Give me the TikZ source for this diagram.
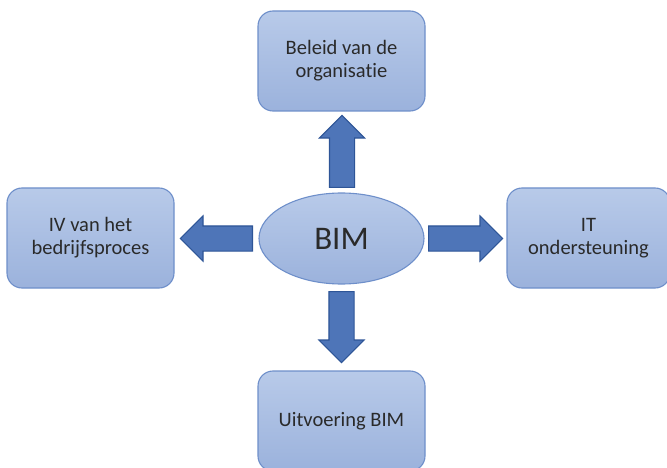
\documentclass[tikz,border=0pt]{standalone}
\usepackage{fontspec}
\setmainfont{Carlito}[Ligatures=NoCommon]
\usetikzlibrary{shapes.geometric,shapes.arrows}
\definecolor{boxtop}{HTML}{B8CAE9}
\definecolor{boxbot}{HTML}{9BB2DC}
\definecolor{boxline}{HTML}{6E8FCA}
\definecolor{arrfill}{HTML}{4E75B8}
\definecolor{arrline}{HTML}{2E5597}
\definecolor{txt}{HTML}{2A2A2A}
\tikzset{
  infobox/.style={draw=boxline, line width=1.1pt, rounded corners=15pt,
    top color=boxtop, bottom color=boxbot, minimum width=167pt, minimum height=100pt,
    inner sep=0pt, align=center, text=txt, font=\fontsize{20.5}{23}\selectfont},
  hub/.style={ellipse, draw=boxline, line width=1.1pt, top color=boxtop, bottom color=boxbot,
    minimum width=165pt, minimum height=91pt, inner sep=0pt, text=txt,
    font=\fontsize{33}{36}\selectfont},
  blockarrow/.style={single arrow, draw=arrline, fill=arrfill, line width=1.1pt,
    minimum width=44pt, single arrow head extend=10pt, inner xsep=0pt, inner ysep=12pt,
    single arrow tip angle=90, anchor=tail}
}
\begin{document}
\begin{tikzpicture}[x=1pt,y=-1pt]
\useasboundingbox (0,0) rectangle (667,468);
\clip (0,0) rectangle (667,468);
\node[infobox] (top) at (341.5,61) {Beleid van de\\organisatie};
\node[infobox] (left) at (90.5,238) {IV van het\\bedrijfsproces};
\node[infobox, minimum width=163pt] (right) at (588.5,238) {IT\\ondersteuning};
\node[infobox] (bottom) at (341.5,421) {Uitvoering BIM};
\node[hub] (bim) at (341.5,238.5) {BIM};
\node[blockarrow, minimum height=72pt, rotate=90] (aup) at (342,188) {};
\node[blockarrow, minimum height=72pt, rotate=180] (aleft) at (253,238.5) {};
\node[blockarrow, minimum height=74pt] (aright) at (428,238.5) {};
\node[blockarrow, minimum height=71pt, rotate=-90] (adown) at (341.5,291) {};
\end{tikzpicture}
\end{document}
